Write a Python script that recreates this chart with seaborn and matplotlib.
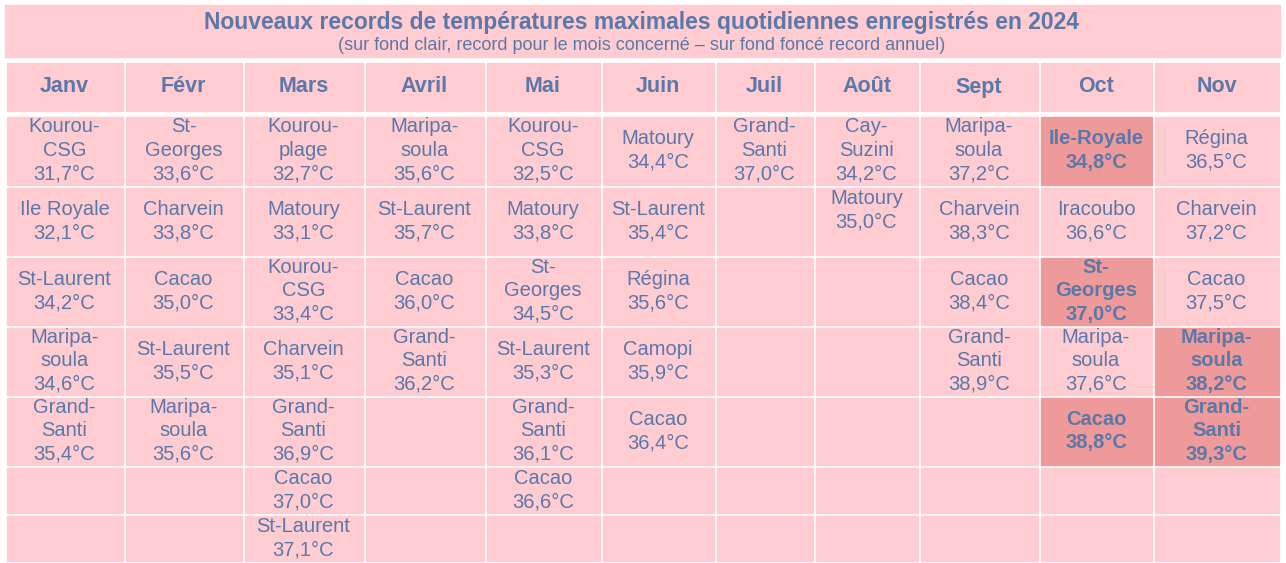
import matplotlib.pyplot as plt
import seaborn as sns
from matplotlib.patches import Rectangle

sns.set_theme(style="white")
plt.rcParams['font.family'] = ['Liberation Sans', 'DejaVu Sans']

title = "Nouveaux records de températures maximales quotidiennes enregistrés en 2024"
subtitle = "(sur fond clair, record pour le mois concerné – sur fond foncé record annuel)"

months = ['Janv', 'Févr', 'Mars', 'Avril', 'Mai', 'Juin', 'Juil', 'Août', 'Sept', 'Oct', 'Nov']

# stations, temperatures and annual-record flags per month
stations = {
    'Janv': ['Kourou-\nCSG', 'Ile Royale', 'St-Laurent', 'Maripa-\nsoula', 'Grand-\nSanti'],
    'Févr': ['St-\nGeorges', 'Charvein', 'Cacao', 'St-Laurent', 'Maripa-\nsoula'],
    'Mars': ['Kourou-\nplage', 'Matoury', 'Kourou-\nCSG', 'Charvein', 'Grand-\nSanti', 'Cacao', 'St-Laurent'],
    'Avril': ['Maripa-\nsoula', 'St-Laurent', 'Cacao', 'Grand-\nSanti'],
    'Mai': ['Kourou-\nCSG', 'Matoury', 'St-\nGeorges', 'St-Laurent', 'Grand-\nSanti', 'Cacao'],
    'Juin': ['Matoury', 'St-Laurent', 'Régina', 'Camopi', 'Cacao'],
    'Juil': ['Grand-\nSanti'],
    'Août': ['Cay-\nSuzini', 'Matoury'],
    'Sept': ['Maripa-\nsoula', 'Charvein', 'Cacao', 'Grand-\nSanti'],
    'Oct': ['Ile-Royale', 'Iracoubo', 'St-\nGeorges', 'Maripa-\nsoula', 'Cacao'],
    'Nov': ['Régina', 'Charvein', 'Cacao', 'Maripa-\nsoula', 'Grand-\nSanti'],
}
temps = {
    'Janv': [31.7, 32.1, 34.2, 34.6, 35.4],
    'Févr': [33.6, 33.8, 35.0, 35.5, 35.6],
    'Mars': [32.7, 33.1, 33.4, 35.1, 36.9, 37.0, 37.1],
    'Avril': [35.6, 35.7, 36.0, 36.2],
    'Mai': [32.5, 33.8, 34.5, 35.3, 36.1, 36.6],
    'Juin': [34.4, 35.4, 35.6, 35.9, 36.4],
    'Juil': [37.0],
    'Août': [34.2, 35.0],
    'Sept': [37.2, 38.3, 38.4, 38.9],
    'Oct': [34.8, 36.6, 37.0, 37.6, 38.8],
    'Nov': [36.5, 37.2, 37.5, 38.2, 39.3],
}
annual = {
    'Oct': [True, False, True, False, True],
    'Nov': [False, False, False, True, True],
}

light = '#FFCCD2'
dark = '#EE9A9A'
txt = '#5B78A8'

col_edges = [5, 124, 243, 364, 485, 601, 715, 814, 919, 1039, 1153, 1280]
row_edges = [115, 186, 256, 326, 396, 466, 514, 562]

fig = plt.figure(figsize=(12.86, 5.63), dpi=100)
ax = fig.add_axes([0, 0, 1, 1])
ax.set_xlim(0, 1286)
ax.set_ylim(563, 0)
ax.axis('off')

g = 1.5
ax.add_patch(Rectangle((5, 5), 1275, 52, color=light))
ax.text(642, 22, title, ha='center', va='center', fontsize=16.5, fontweight='bold', color=txt)
ax.text(642, 46, subtitle, ha='center', va='center', fontsize=13, color=txt)

for j, m in enumerate(months):
    x0, x1 = col_edges[j] + g, col_edges[j + 1] - g
    ax.add_patch(Rectangle((x0, 63), x1 - x0, 48, color=light))
    ax.text((x0 + x1) / 2, 87, m, ha='center', va='center', fontsize=15.5,
            fontweight='bold', color=txt)
    flags = annual.get(m, [False] * len(stations[m]))
    for i in range(len(row_edges) - 1):
        y0, y1 = row_edges[i] + g, row_edges[i + 1] - g
        is_ann = i < len(stations[m]) and flags[i]
        ax.add_patch(Rectangle((x0, y0), x1 - x0, y1 - y0, color=dark if is_ann else light))
        if i < len(stations[m]):
            label = stations[m][i] + '\n' + f"{temps[m][i]:.1f}".replace('.', ',') + '°C'
            yc = (y0 + y1) / 2
            if m == 'Août' and i == 1:
                yc -= 11
            ax.text((x0 + x1) / 2, yc, label, ha='center', va='center',
                    fontsize=14.5, color=txt, linespacing=1.3,
                    fontweight='bold' if is_ann else 'normal')

fig.savefig('out.png', dpi=100)
